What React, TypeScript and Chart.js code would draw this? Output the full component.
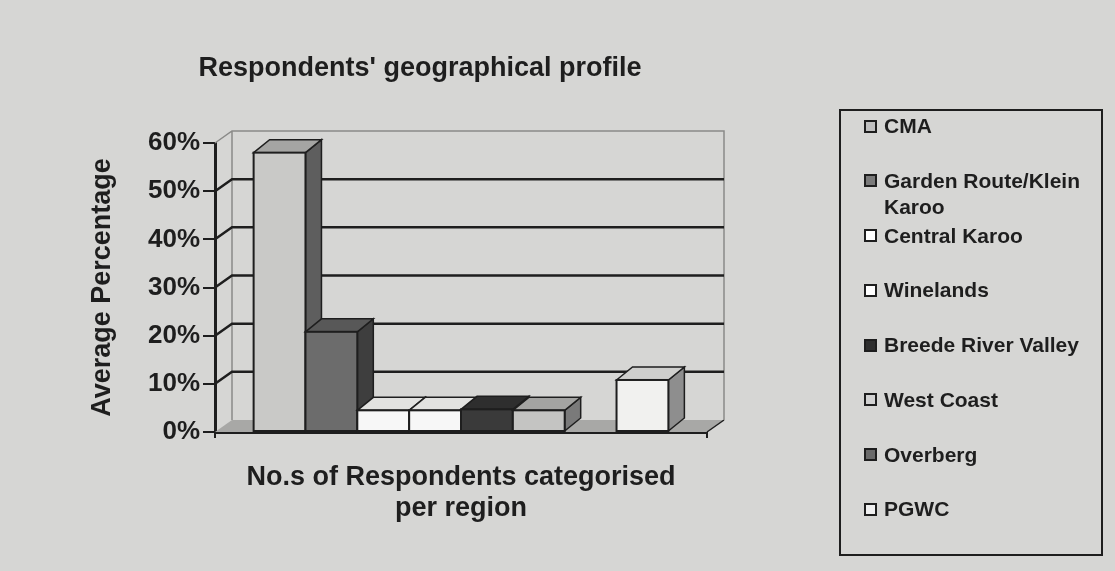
import React, { useEffect, useRef } from "react";
import { Chart, registerables } from "chart.js";

Chart.register(...registerables);

// ---------- data ----------
const categoryLabels = ["Regions"];
const regionNames = [
  "CMA",
  "Garden Route/Klein Karoo",
  "Central Karoo",
  "Winelands",
  "Breede River Valley",
  "West Coast",
  "Overberg",
  "PGWC",
];
const regionPercentages = [58, 20.8, 4.5, 4.5, 4.7, 4.5, 0, 10.8];
const yTickValues = [0, 10, 20, 30, 40, 50, 60];
const chartTitle = "Respondents' geographical profile";
const yAxisTitle = "Average Percentage";
const xAxisTitle = ["No.s of Respondents categorised", "per region"];
const legendLabelLines = [
  ["CMA"],
  ["Garden Route/Klein", "Karoo"],
  ["Central Karoo"],
  ["Winelands"],
  ["Breede River Valley"],
  ["West Coast"],
  ["Overberg"],
  ["PGWC"],
];

// ---------- styles ----------
const frontColors = ["#c9c9c7", "#6c6c6c", "#f7f7f7", "#f7f7f7", "#3a3a3a", "#c4c4c2", "#7a7a7a", "#f1f1ef"];
const topColors = ["#a5a5a3", "#585858", "#e2e2e0", "#e2e2e0", "#2e2e2e", "#a4a4a2", "#5a5a5a", "#cfcfcd"];
const sideColors = ["#5e5e5e", "#3e3e3e", "#b0b0b0", "#b0b0b0", "#2a2a2a", "#7a7a7a", "#4a4a4a", "#8e8e8e"];
const legendColors = ["#c0c0c0", "#7a7a7a", "#ffffff", "#ffffff", "#2e2e2e", "#d2d2d2", "#6a6a6a", "#f0f0f0"];

const FONT = "'Liberation Sans', Arial, Helvetica, sans-serif";
const INK = "#1e1e1e";
const BG = "#d6d6d4";
const WALL_DX = 17;
const WALL_DY = -12;
const BAR_DX = 16;
const BAR_DY = -13;

const wall3d = {
  id: "wall3d",
  beforeDatasetsDraw(chart: any) {
    const { ctx, chartArea: a, scales } = chart;
    const ys = scales.y;
    const y0 = ys.getPixelForValue(yTickValues[0]);
    const yTop = ys.getPixelForValue(yTickValues[yTickValues.length - 1]);
    ctx.save();
    // floor
    ctx.fillStyle = "#a8a8a6";
    ctx.beginPath();
    ctx.moveTo(a.left, y0);
    ctx.lineTo(a.right, y0);
    ctx.lineTo(a.right + WALL_DX, y0 + WALL_DY);
    ctx.lineTo(a.left + WALL_DX, y0 + WALL_DY);
    ctx.closePath();
    ctx.fill();
    ctx.strokeStyle = INK;
    ctx.lineWidth = 1.5;
    ctx.beginPath();
    ctx.moveTo(a.right, y0);
    ctx.lineTo(a.right + WALL_DX, y0 + WALL_DY);
    ctx.stroke();
    // wall outline
    ctx.strokeStyle = "#8a8a88";
    ctx.lineWidth = 1.5;
    ctx.beginPath();
    ctx.moveTo(a.left, yTop);
    ctx.lineTo(a.left + WALL_DX, yTop + WALL_DY);
    ctx.lineTo(a.right + WALL_DX, yTop + WALL_DY);
    ctx.lineTo(a.right + WALL_DX, y0 + WALL_DY);
    ctx.moveTo(a.left + WALL_DX, yTop + WALL_DY);
    ctx.lineTo(a.left + WALL_DX, y0 + WALL_DY);
    ctx.stroke();
    // grid lines on the back wall
    ctx.strokeStyle = INK;
    ctx.lineWidth = 2.5;
    yTickValues.forEach((v, i) => {
      if (i === 0 || i === yTickValues.length - 1) return;
      const py = ys.getPixelForValue(v);
      ctx.beginPath();
      ctx.moveTo(a.left, py);
      ctx.lineTo(a.left + WALL_DX, py + WALL_DY);
      ctx.lineTo(a.right + WALL_DX, py + WALL_DY);
      ctx.stroke();
    });
    ctx.restore();
  },
  afterDatasetsDraw(chart: any) {
    const { ctx } = chart;
    ctx.save();
    ctx.strokeStyle = INK;
    ctx.lineJoin = "miter";
    for (let i = 0; i < chart.data.datasets.length; i++) {
      const meta = chart.getDatasetMeta(i);
      const el = meta.data[0];
      const val = chart.data.datasets[i].data[0];
      if (!el || !(val > 0)) continue;
      const { x, y, base, width } = el.getProps(["x", "y", "base", "width"], true);
      const l = x - width / 2;
      const r = x + width / 2;
      ctx.lineWidth = 1.5;
      // side face
      ctx.fillStyle = sideColors[i];
      ctx.beginPath();
      ctx.moveTo(r, y);
      ctx.lineTo(r + BAR_DX, y + BAR_DY);
      ctx.lineTo(r + BAR_DX, base + BAR_DY);
      ctx.lineTo(r, base);
      ctx.closePath();
      ctx.fill();
      ctx.stroke();
      // top face
      ctx.fillStyle = topColors[i];
      ctx.beginPath();
      ctx.moveTo(l, y);
      ctx.lineTo(l + BAR_DX, y + BAR_DY);
      ctx.lineTo(r + BAR_DX, y + BAR_DY);
      ctx.lineTo(r, y);
      ctx.closePath();
      ctx.fill();
      ctx.stroke();
      // front face
      ctx.fillStyle = frontColors[i];
      ctx.fillRect(l, y, width, base - y);
      ctx.lineWidth = 2;
      ctx.strokeRect(l, y, width, base - y);
    }
    ctx.restore();
  },
};

export default function App() {
  const canvasRef = useRef<HTMLCanvasElement | null>(null);

  useEffect(() => {
    if (!canvasRef.current) return;
    Chart.defaults.font.family = FONT;
    const chart = new Chart(canvasRef.current, {
      type: "bar",
      data: {
        labels: categoryLabels,
        datasets: regionNames.map((name, i) => ({
          label: name,
          data: [regionPercentages[i]],
          backgroundColor: frontColors[i],
          borderWidth: 0,
          categoryPercentage: 0.843,
          barPercentage: 1,
        })),
      },
      options: {
        responsive: false,
        animation: false,
        events: [],
        layout: { padding: { left: 0, right: 0, top: 0, bottom: 39 } },
        plugins: {
          legend: { display: false },
          tooltip: { enabled: false },
          title: {
            display: true,
            text: chartTitle,
            color: INK,
            font: { family: FONT, size: 27, weight: "bold", lineHeight: 1.2 },
            padding: { top: 52, bottom: 58.6 },
          },
        },
        scales: {
          x: {
            type: "category",
            offset: true,
            ticks: { display: false },
            grid: {
              display: true,
              offset: true,
              drawOnChartArea: false,
              drawTicks: true,
              tickLength: 6,
              color: INK,
              lineWidth: 2,
            },
            border: { display: true, color: INK, width: 3 },
            title: {
              display: true,
              text: xAxisTitle,
              color: INK,
              font: { family: FONT, size: 27, weight: "bold", lineHeight: 1.15 },
              padding: { top: 0, bottom: 7.5 },
            },
            afterFit: (s: any) => {
              s.height = 100;
            },
          },
          y: {
            type: "linear",
            position: "left",
            min: yTickValues[0],
            max: yTickValues[yTickValues.length - 1],
            afterBuildTicks: (s: any) => {
              s.ticks = yTickValues.map((v) => ({ value: v }));
            },
            ticks: {
              color: INK,
              padding: 3,
              font: { family: FONT, size: 26, weight: "bold" },
              callback: (v: any) => v + "%",
            },
            grid: {
              drawOnChartArea: false,
              drawTicks: true,
              tickLength: 12,
              color: INK,
              lineWidth: 2,
            },
            border: { display: true, color: INK, width: 3 },
            title: {
              display: true,
              text: yAxisTitle,
              color: INK,
              font: { family: FONT, size: 27, weight: "bold", lineHeight: 1.2 },
              padding: { top: 86, bottom: 0 },
            },
            afterFit: (s: any) => {
              s.width = 215;
            },
          },
          rightSpace: {
            type: "linear",
            position: "right",
            display: true,
            ticks: { display: false },
            grid: { display: false },
            border: { display: false },
            afterFit: (s: any) => {
              s.width = 133;
            },
          },
        },
      },
      plugins: [wall3d],
    } as any);
    return () => chart.destroy();
  }, []);

  const itemTop = 126;
  const itemStep = 54.75;

  return (
    <div
      style={{
        position: "fixed",
        left: 0,
        top: 0,
        width: 1115,
        height: 571,
        background: BG,
        overflow: "hidden",
        fontFamily: FONT,
      }}
    >
      <canvas
        ref={canvasRef}
        width={840}
        height={571}
        style={{ position: "absolute", left: 0, top: 0, width: 840, height: 571 }}
      />
      <div
        style={{
          position: "absolute",
          left: 839,
          top: 109,
          width: 264,
          height: 447,
          boxSizing: "border-box",
          border: `2px solid ${INK}`,
        }}
      />
      {legendLabelLines.map((lines, i) => {
        const cy = itemTop + itemStep * i;
        return (
          <React.Fragment key={i}>
            <div
              style={{
                position: "absolute",
                left: 864,
                top: cy - 6.5,
                width: 13,
                height: 13,
                boxSizing: "border-box",
                border: `2px solid ${INK}`,
                background: legendColors[i],
              }}
            />
            <div
              style={{
                position: "absolute",
                left: 884,
                top: cy - 13,
                fontSize: 21,
                fontWeight: "bold",
                lineHeight: "26px",
                color: INK,
                whiteSpace: "nowrap",
              }}
            >
              {lines.map((t, j) => (
                <div key={j}>{t}</div>
              ))}
            </div>
          </React.Fragment>
        );
      })}
    </div>
  );
}
